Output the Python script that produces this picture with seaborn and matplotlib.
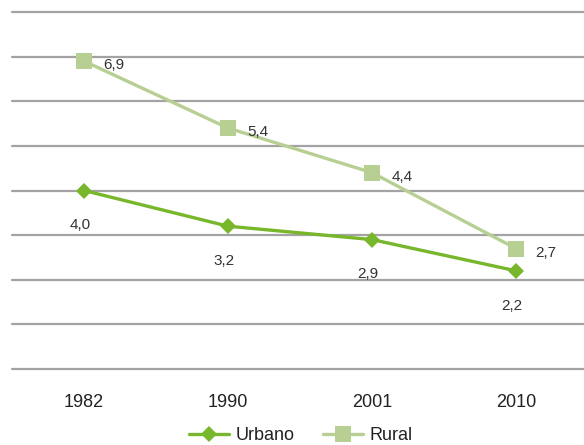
import matplotlib
matplotlib.use("Agg")
import matplotlib.pyplot as plt
import seaborn as sns
import pandas as pd

years = ["1982", "1990", "2001", "2010"]
urbano = [4.0, 3.2, 2.9, 2.2]
rural = [6.9, 5.4, 4.4, 2.7]

df = pd.DataFrame({
    "ano": years * 2,
    "valor": urbano + rural,
    "serie": ["Urbano"] * len(years) + ["Rural"] * len(years),
})

sns.set_theme(style="white")
plt.rcParams["font.family"] = ["Liberation Sans", "DejaVu Sans"]

colors = {"Urbano": "#78b72b", "Rural": "#b8cf94"}
markers = {"Urbano": "D", "Rural": "s"}
sizes = {"Urbano": 8, "Rural": 11}

fig = plt.figure(figsize=(5.84, 4.45), dpi=100)
ax = fig.add_axes([12 / 584, 76 / 445, 576 / 584, 357 / 445])

for name in ["Urbano", "Rural"]:
    sub = df[df["serie"] == name]
    sns.lineplot(data=sub, x="ano", y="valor", ax=ax, color=colors[name],
                 linewidth=2.4, marker=markers[name], markersize=sizes[name],
                 markeredgewidth=0, label=name, sort=False)

ax.set_ylim(0, 8)
ax.set_xlim(-0.5, 3.5)
ax.set_yticks(range(0, 9))
ax.set_yticklabels([])
ax.yaxis.grid(True, color="#a3a3a3", linewidth=1.6)
ax.xaxis.grid(False)
for gl in ax.yaxis.get_gridlines():
    gl.set_clip_on(False)
for s in ax.spines.values():
    s.set_visible(False)
ax.set_xlabel("")
ax.set_ylabel("")
ax.tick_params(axis="x", length=0, labelsize=13, colors="#222222", pad=18)
ax.tick_params(axis="y", length=0)

txt = "#333333"
for i, v in enumerate(rural):
    ax.annotate(f"{v:.1f}".replace(".", ","), (i, v), xytext=(14, -3),
                textcoords="offset points", ha="left", va="center",
                fontsize=11, color=txt)
for i, v in enumerate(urbano):
    ax.annotate(f"{v:.1f}".replace(".", ","), (i, v), xytext=(-3, -25),
                textcoords="offset points", ha="center", va="center",
                fontsize=11, color=txt)

leg = ax.legend(loc="center", bbox_to_anchor=(301 / 584, 9 / 445),
                bbox_transform=fig.transFigure, ncol=2, frameon=False,
                fontsize=13, handlelength=2.2, columnspacing=1.6,
                handletextpad=0.35, borderpad=0)
for t in leg.get_texts():
    t.set_color("#222222")

fig.savefig("out.png", dpi=100)
